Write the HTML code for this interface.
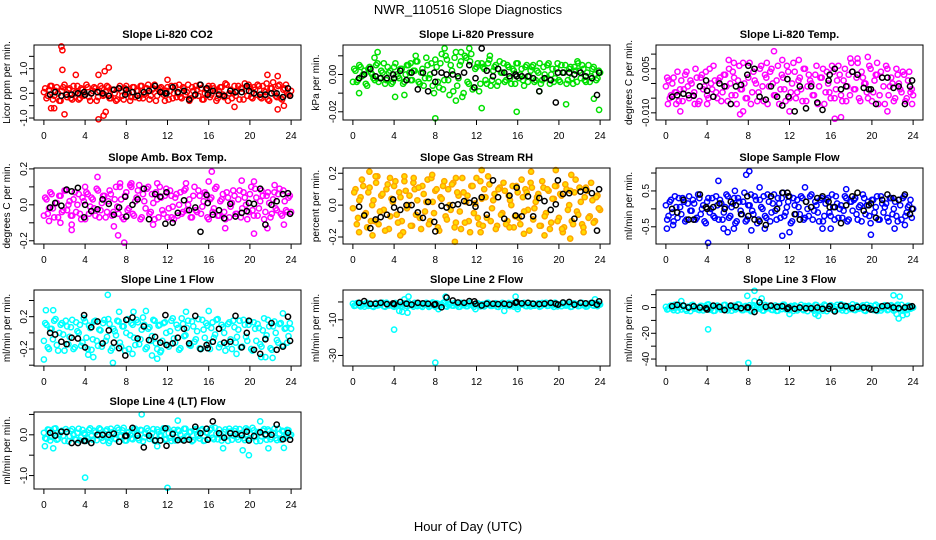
<!DOCTYPE html>
<html><head><meta charset="utf-8"><title>NWR_110516 Slope Diagnostics</title>
<style>
html,body{margin:0;padding:0;background:#fff;}
svg{display:block;font-family:"Liberation Sans",Arial,sans-serif;}
</style></head>
<body>
<svg id="chart" width="936" height="540" viewBox="0 0 936 540" xmlns="http://www.w3.org/2000/svg">
<rect x="0" y="0" width="936" height="540" fill="#fff"/>
<text x="468" y="14" text-anchor="middle" font-size="13">NWR_110516  Slope Diagnostics</text>
<text x="468" y="531" text-anchor="middle" font-size="13">Hour of Day (UTC)</text>
</svg>
<script>
const bandHours=[0,0.25,0.5,0.75,1,1.25,1.5,1.75,2,2.25,2.5,2.75,3,3.25,3.5,3.75,4,4.25,4.5,4.75,5,5.25,5.5,5.75,6,6.25,6.5,6.75,7,7.25,7.5,7.75,8,8.25,8.5,8.75,9,9.25,9.5,9.75,10,10.25,10.5,10.75,11,11.25,11.5,11.75,12,12.25,12.5,12.75,13,13.25,13.5,13.75,14,14.25,14.5,14.75,15,15.25,15.5,15.75,16,16.25,16.5,16.75,17,17.25,17.5,17.75,18,18.25,18.5,18.75,19,19.25,19.5,19.75,20,20.25,20.5,20.75,21,21.25,21.5,21.75,22,22.25,22.5,22.75,23,23.25,23.5,23.75,24];
const bandHours2=[0.125,0.375,0.625,0.875,1.125,1.375,1.625,1.875,2.125,2.375,2.625,2.875,3.125,3.375,3.625,3.875,4.125,4.375,4.625,4.875,5.125,5.375,5.625,5.875,6.125,6.375,6.625,6.875,7.125,7.375,7.625,7.875,8.125,8.375,8.625,8.875,9.125,9.375,9.625,9.875,10.125,10.375,10.625,10.875,11.125,11.375,11.625,11.875,12.125,12.375,12.625,12.875,13.125,13.375,13.625,13.875,14.125,14.375,14.625,14.875,15.125,15.375,15.625,15.875,16.125,16.375,16.625,16.875,17.125,17.375,17.625,17.875,18.125,18.375,18.625,18.875,19.125,19.375,19.625,19.875,20.125,20.375,20.625,20.875,21.125,21.375,21.625,21.875,22.125,22.375,22.625,22.875,23.125,23.375,23.625,23.875];
const blackHours=[0.6,1.1,1.7,2.2,2.7,3.3,3.9,4.0,4.6,5.2,5.7,6.3,6.8,7.3,7.9,8.0,8.6,9.1,9.7,10.2,10.8,11.3,11.8,11.9,12.5,13.0,13.6,14.1,14.7,15.2,15.8,15.9,16.4,17.0,17.5,18.1,18.6,19.2,19.7,19.9,20.4,21.0,21.5,22.1,22.6,23.2,23.7,23.9];
const xTicks=[0,4,8,12,16,20,24];

const co2Band=[0.05,-0.2,0.15,0.3,-0.1,0.25,-0.3,0.1,0.35,-0.15,0.2,-0.25,0.0,0.3,-0.2,0.15,-0.05,0.25,-0.3,0.1,0.2,-0.15,0.3,-0.1,0.05,0.25,-0.2,0.15,-0.3,0.2,0.1,-0.25,0.3,0.0,-0.15,0.25,0.1,-0.2,0.3,-0.05,0.2,-0.25,0.15,0.35,-0.1,0.2,0.05,-0.3,0.25,0.1,-0.2,0.3,0.0,-0.15,0.25,-0.05,0.35,-0.2,0.1,0.3,-0.1,0.2,-0.25,0.15,0.3,-0.05,0.2,-0.3,0.1,0.25,-0.15,0.35,0.0,-0.2,0.3,0.1,-0.25,0.2,0.4,-0.1,0.25,-0.2,0.15,0.35,-0.15,0.3,0.05,-0.25,0.2,0.45,-0.1,0.3,-0.2,0.15,0.35,-0.05,0.1];
const co2Band2=[0.2,-0.1,0.3,-0.25,0.1,0.0,-0.3,0.25,-0.05,0.15,-0.2,0.3,0.05,-0.25,0.2,-0.1,0.35,-0.15,0.0,0.25,-0.3,0.1,0.2,-0.05,0.3,-0.2,0.15,0.0,-0.25,0.3,-0.1,0.2,0.05,-0.3,0.25,-0.15,0.1,0.3,-0.2,0.0,0.35,-0.1,0.2,-0.3,0.15,0.25,-0.05,0.1,-0.25,0.3,0.0,-0.15,0.35,-0.2,0.2,0.05,-0.3,0.25,-0.1,0.15,0.35,-0.25,0.0,0.2,-0.15,0.3,0.1,-0.2,0.25,-0.05,0.4,-0.3,0.15,0.0,-0.1,0.3,0.2,-0.25,0.1,0.35,-0.15,0.25,-0.05,0.3,-0.2,0.1,0.4,-0.3,0.2,0.05,-0.15,0.35,-0.25,0.2,0.0,-0.1];
const co2OutHours=[1.7,1.8,1.8,2.0,0.7,1.0,3.1,5.3,5.9,6.3,5.3,5.8,6.0,12.0,18.5,21.7,22.7,22.7,23.3];
const co2OutVals=[1.9,1.75,0.95,-0.85,-0.6,-0.6,0.75,0.75,0.9,1.05,-1.05,-0.9,-0.75,0.55,-0.55,0.75,0.7,-0.65,-0.5];
const co2Black=[-0.05,0.05,-0.1,-0.05,-0.05,0.0,0.05,-0.05,0.0,0.05,0.0,-0.1,0.15,0.2,-0.05,0.15,0.05,-0.1,0.05,0.1,0.3,0.05,0.0,0.0,0.25,0.05,0.1,-0.25,-0.05,0.35,0.2,-0.05,0.1,-0.05,-0.1,0.1,0.05,0.05,0.3,0.1,0.0,-0.05,-0.05,0.0,0.0,-0.15,0.2,-0.1];
const co2Ticks=[-1,-0.5,0,0.5,1,1.5];
const co2TickLabels=["-1.0","","0.0","","1.0",""];

const presBand=[-0.004,0.002,-0.003,0.004,0.0,-0.005,0.003,0.001,-0.002,0.005,-0.004,0.002,0.006,-0.003,0.001,-0.005,0.004,0.0,-0.002,0.003,-0.004,0.005,0.001,-0.003,0.002,0.007,-0.005,0.003,-0.002,0.005,0.0,-0.006,0.008,-0.004,0.006,-0.008,0.01,-0.003,0.005,-0.009,0.012,-0.002,0.007,-0.01,0.009,-0.005,0.011,-0.007,0.004,-0.009,0.006,0.003,-0.005,0.008,-0.003,0.004,-0.006,0.007,0.001,-0.004,0.005,-0.002,0.003,-0.005,0.006,0.0,-0.003,0.004,-0.004,0.002,0.005,-0.003,0.001,-0.005,0.004,-0.002,0.006,0.0,-0.004,0.003,-0.003,0.005,0.001,-0.005,0.003,-0.002,0.004,-0.004,0.002,0.005,-0.003,0.001,-0.004,0.003,0.0,-0.002,0.001];
const presBand2=[0.003,-0.004,0.005,-0.001,0.002,-0.006,0.004,0.0,-0.003,0.006,-0.002,0.001,-0.005,0.004,0.002,-0.004,0.006,-0.001,0.003,-0.005,0.0,0.005,-0.003,0.002,0.007,-0.004,0.001,-0.006,0.009,-0.002,0.006,-0.01,0.004,-0.007,0.011,-0.003,0.008,-0.011,0.002,0.009,-0.006,0.005,-0.012,0.01,-0.004,0.007,-0.008,0.003,0.006,-0.005,0.004,-0.003,0.006,-0.006,0.002,0.005,-0.004,0.001,0.006,-0.003,0.004,-0.005,0.002,0.006,-0.002,0.003,-0.006,0.005,-0.001,0.004,-0.004,0.002,0.006,-0.003,0.0,0.005,-0.005,0.003,-0.002,0.006,-0.004,0.001,0.005,-0.003,0.004,-0.005,0.002,0.006,-0.002,0.003,-0.004,0.005,-0.001,0.004,-0.003,0.002];
const presOutHours=[0.6,2.1,2.4,4.1,5.0,5.6,6.1,8.0,8.9,10.0,10.5,11.3,12.5,13.3,15.9,18.1,20.7,23.4,23.9,21.8];
const presOutVals=[-0.01,0.009,0.012,-0.012,-0.011,0.006,0.01,-0.0235,0.014,-0.014,0.012,0.014,-0.018,0.01,-0.02,-0.009,-0.016,-0.013,-0.019,0.007];
const presBlack=[-0.002,0.0,0.003,-0.001,-0.002,-0.002,0.0,-0.002,0.002,-0.003,0.001,-0.008,0.001,-0.009,0.001,-0.004,0.001,0.0,0.0,-0.001,0.001,0.005,-0.007,-0.002,0.014,0.002,-0.001,0.003,0.001,-0.001,0.0,-0.001,-0.001,-0.001,-0.002,-0.009,-0.002,-0.003,-0.015,0.001,0.001,0.001,0.0,0.001,-0.001,-0.002,-0.011,0.001];
const presTicks=[-0.02,-0.01,0,0.01];
const presTickLabels=["-0.02","","0.00",""];

const tempBand=[-0.001,0.001,-0.004,0.002,-0.003,-0.006,0.001,-0.002,0.004,-0.005,0.0,-0.003,0.002,-0.006,0.003,-0.001,-0.004,0.005,-0.002,0.001,-0.005,0.002,-0.003,0.003,-0.006,0.0,0.004,-0.004,0.001,-0.002,0.007,-0.005,0.002,-0.007,0.004,0.0,-0.003,0.006,-0.006,0.002,-0.001,0.005,-0.004,0.001,-0.007,0.003,-0.002,0.006,-0.005,0.0,0.004,-0.003,0.002,-0.006,0.005,-0.001,0.001,-0.004,0.003,-0.007,0.002,0.005,-0.003,0.0,-0.005,0.004,-0.002,0.006,-0.004,0.001,-0.006,0.003,0.007,-0.002,0.002,-0.005,0.004,0.0,-0.003,0.006,-0.006,0.001,0.003,-0.004,0.002,-0.007,0.005,-0.001,0.0,-0.005,0.003,-0.002,0.004,-0.006,0.001,-0.003,-0.004];
const tempBand2=[0.002,-0.005,0.0,-0.003,0.004,-0.002,-0.006,0.003,-0.001,0.001,-0.004,0.005,-0.007,0.002,-0.002,0.004,-0.005,0.0,0.006,-0.003,0.001,-0.006,0.003,-0.001,0.005,-0.004,0.002,-0.007,0.006,-0.002,0.0,-0.005,0.007,-0.003,0.001,-0.006,0.005,-0.001,0.003,-0.007,0.004,0.0,-0.004,0.006,-0.002,0.002,-0.006,0.004,-0.003,0.007,-0.005,0.001,-0.002,0.005,-0.006,0.003,0.0,-0.004,0.006,-0.001,0.002,-0.007,0.004,-0.003,0.006,-0.005,0.001,0.003,-0.006,0.005,-0.001,-0.004,0.004,-0.002,0.007,-0.006,0.002,0.0,-0.005,0.005,-0.003,0.003,-0.007,0.004,-0.001,0.006,-0.004,0.002,-0.006,0.005,0.0,-0.003,0.003,-0.005,0.004,-0.002];
const tempOutHours=[0.2,1.0,1.4,2.8,4.0,6.1,6.6,7.2,7.5,9.8,10.5,11.3,12.0,12.9,16.4,17.0,17.9,18.6,19.6,20.5,21.5,23.9];
const tempOutVals=[-0.007,-0.007,-0.0095,-0.007,-0.007,0.008,0.007,-0.0105,-0.0095,0.007,0.011,0.008,-0.0095,0.008,-0.012,-0.0115,0.0085,0.0085,0.009,0.007,-0.0095,-0.007];
const tempBlack=[-0.0045,-0.004,-0.0035,-0.004,-0.0042,-0.001,0.001,-0.0025,-0.0045,0.0,-0.001,-0.007,-0.001,-0.0005,0.003,0.006,0.005,-0.0045,-0.0055,-0.001,-0.0045,-0.0075,0.0015,-0.0045,-0.0095,-0.001,-0.0085,-0.001,-0.0065,-0.009,0.001,0.003,0.005,-0.002,-0.001,0.004,0.003,-0.0015,-0.002,-0.002,-0.007,0.002,0.002,-0.0015,-0.001,-0.007,-0.001,0.001];
const tempTicks=[-0.01,-0.005,0,0.005,0.01];
const tempTickLabels=["-0.010","","","0.005",""];

const ambBand=[-0.06,0.03,-0.02,0.06,-0.07,0.01,0.05,-0.04,0.08,-0.03,0.02,-0.06,0.07,0.0,-0.05,0.04,-0.08,0.06,-0.01,0.03,-0.06,0.08,-0.03,0.05,-0.07,0.02,0.06,-0.04,0.1,-0.05,0.03,-0.08,0.07,-0.02,0.1,-0.06,0.04,0.11,-0.07,0.02,0.09,-0.05,0.06,-0.08,0.03,0.1,-0.03,0.05,-0.07,0.08,-0.01,0.04,-0.06,0.07,-0.04,0.09,0.0,-0.07,0.05,-0.03,0.08,-0.05,0.02,0.06,-0.08,0.04,-0.02,0.1,-0.06,0.03,-0.04,0.07,-0.07,0.01,0.05,-0.05,0.08,-0.02,0.04,-0.08,0.06,-0.03,0.09,-0.06,0.02,0.05,-0.04,0.07,-0.07,0.03,-0.02,0.06,-0.05,0.08,-0.03,0.04,-0.04];
const ambBand2=[0.04,-0.05,0.07,-0.02,0.01,-0.07,0.05,-0.03,0.08,0.0,-0.06,0.03,-0.04,0.06,-0.08,0.02,0.07,-0.05,0.04,-0.02,0.09,-0.07,0.01,0.05,-0.04,0.08,-0.06,0.03,-0.01,0.1,-0.07,0.05,-0.03,0.11,-0.05,0.02,0.08,-0.08,0.06,-0.02,0.1,-0.04,0.01,0.07,-0.07,0.04,-0.05,0.09,-0.02,0.05,-0.08,0.06,0.0,-0.05,0.08,-0.03,0.03,-0.07,0.1,-0.04,0.05,-0.01,0.07,-0.07,0.03,-0.04,0.09,-0.06,0.02,0.06,-0.08,0.04,-0.01,0.08,-0.05,0.03,-0.07,0.07,0.0,-0.04,0.1,-0.06,0.04,-0.02,0.08,-0.08,0.05,0.01,-0.05,0.07,-0.03,0.09,-0.06,0.02,-0.04,0.05];
const ambOutHours=[0.5,1.6,2.7,2.7,4.0,5.2,6.8,7.2,7.8,7.4,8.5,10.6,11.0,12.4,13.8,16.0,16.3,17.6,19.2,20.4,20.4,21.7,22.4,23.3];
const ambOutVals=[-0.09,-0.1,-0.11,-0.14,0.1,0.155,-0.12,-0.17,-0.21,0.12,0.12,-0.11,0.12,-0.07,0.12,0.13,0.185,-0.13,0.135,0.13,-0.16,-0.13,0.11,-0.11];
const ambBlack=[-0.015,0.01,-0.005,0.085,0.075,0.095,-0.07,0.0,-0.035,-0.025,0.03,0.005,-0.055,-0.015,0.045,-0.065,0.0,0.03,0.09,-0.08,0.06,0.045,-0.105,0.07,-0.1,-0.045,0.025,-0.03,-0.015,-0.15,0.055,0.01,-0.055,-0.03,-0.075,0.005,-0.065,-0.045,-0.035,0.01,0.005,0.09,-0.11,0.0,0.02,0.06,0.065,-0.05];
const ambTicks=[-0.2,-0.1,0,0.1,0.2];
const ambTickLabels=["-0.2","","0.0","","0.2"];

const rhBand=[-0.02,0.1,-0.08,0.05,0.12,-0.05,0.08,-0.1,0.03,0.14,-0.12,0.06,-0.03,0.1,-0.15,0.04,0.12,-0.06,0.08,-0.1,0.15,-0.02,0.06,-0.13,0.1,0.03,-0.08,0.12,-0.04,0.16,-0.1,0.02,0.09,-0.14,0.05,0.12,-0.07,0.1,-0.03,0.14,-0.11,0.06,-0.15,0.08,0.02,-0.1,0.12,-0.05,0.17,-0.12,0.04,0.1,-0.08,0.13,-0.02,0.07,-0.13,0.11,-0.05,0.09,-0.1,0.03,0.12,-0.07,0.08,-0.12,0.05,0.1,-0.03,0.14,-0.09,0.02,0.07,-0.13,0.11,-0.05,0.09,-0.11,0.04,0.12,-0.08,0.06,-0.14,0.1,0.0,-0.1,0.08,-0.04,0.11,-0.12,0.05,0.09,-0.07,0.03,-0.1,0.06,-0.03];
const rhBand2=[0.08,-0.12,0.03,0.16,-0.06,-0.14,0.11,0.0,-0.1,0.18,-0.04,0.07,-0.16,0.13,-0.07,0.02,0.15,-0.11,0.05,-0.17,0.09,0.0,-0.13,0.14,-0.06,0.11,-0.15,0.07,0.02,-0.12,0.17,-0.05,0.1,-0.16,0.04,0.15,-0.09,0.0,0.13,-0.14,0.08,-0.04,0.17,-0.11,0.06,-0.17,0.12,0.01,-0.08,0.15,-0.13,0.05,0.18,-0.1,0.03,-0.15,0.1,-0.06,0.14,-0.12,0.06,0.0,-0.14,0.12,-0.08,0.16,-0.04,0.08,-0.16,0.11,-0.02,0.05,-0.13,0.15,-0.07,0.1,-0.15,0.04,0.12,-0.1,0.07,-0.17,0.13,-0.03,0.09,-0.12,0.16,-0.06,0.02,-0.14,0.11,-0.08,0.14,-0.11,0.05,-0.02];
const rhOutHours=[0.6,1.9,1.6,2.2,3.6,4.6,5.0,5.9,7.7,10.0,9.9,12.4,12.5,15.2,16.6,17.3,18.6,19.7,20.3,21.1,21.2,22.4];
const rhOutVals=[-0.17,-0.19,0.21,0.18,0.17,-0.19,0.18,0.17,0.19,0.17,-0.23,-0.17,0.22,-0.14,-0.18,0.21,-0.19,0.22,-0.15,-0.21,0.19,-0.17];
const rhBlack=[-0.01,-0.065,-0.145,-0.09,-0.075,-0.06,0.035,-0.015,-0.03,0.0,0.0,-0.045,-0.08,0.02,-0.105,-0.165,-0.005,-0.015,0.0,0.005,0.025,0.015,0.03,-0.01,0.05,-0.06,0.155,0.05,-0.085,0.06,-0.065,0.11,-0.07,0.055,-0.07,0.045,0.025,-0.03,0.005,0.155,0.07,0.075,-0.085,0.085,0.095,0.075,-0.16,0.1];
const rhTicks=[-0.2,-0.1,0,0.1,0.2];
const rhTickLabels=["-0.2","","0.0","","0.2"];

const sampBand=[0.1,-0.2,0.25,-0.35,0.05,0.3,-0.15,0.2,-0.3,0.35,-0.05,0.15,-0.25,0.3,0.0,-0.35,0.2,-0.1,0.3,-0.25,0.1,0.25,-0.3,0.05,0.35,-0.2,0.15,-0.4,0.3,-0.05,0.2,-0.35,0.1,0.4,-0.15,0.25,-0.3,0.05,0.35,-0.25,0.2,-0.1,0.4,-0.3,0.15,0.3,-0.2,0.05,0.35,-0.35,0.1,0.25,-0.15,0.3,-0.25,0.0,0.35,-0.3,0.2,-0.1,0.25,-0.35,0.15,0.3,-0.2,0.05,0.35,-0.25,0.1,-0.05,0.3,-0.3,0.2,0.25,-0.15,0.05,-0.35,0.3,0.1,-0.2,0.25,-0.1,0.35,-0.3,0.15,0.05,-0.25,0.3,-0.15,0.2,-0.35,0.1,0.3,-0.2,0.05,0.25,0.0];
const sampBand2=[-0.3,0.2,-0.1,0.35,-0.25,0.05,0.3,-0.35,0.15,-0.05,0.25,-0.3,0.4,-0.15,0.1,-0.4,0.3,0.0,-0.2,0.35,-0.3,0.15,-0.1,0.4,-0.25,0.05,0.3,-0.35,0.2,-0.15,0.45,-0.3,0.1,-0.05,0.35,-0.4,0.25,0.0,-0.2,0.4,-0.35,0.15,-0.05,0.3,-0.25,0.45,-0.1,0.2,-0.4,0.3,-0.15,0.05,0.35,-0.3,0.2,-0.2,0.4,-0.05,0.1,-0.35,0.3,-0.2,0.25,-0.1,0.4,-0.3,0.15,0.0,-0.25,0.35,-0.35,0.2,-0.05,0.3,-0.3,0.1,0.4,-0.15,0.2,-0.4,0.25,0.05,-0.3,0.35,-0.1,0.15,-0.35,0.3,0.0,-0.2,0.25,-0.3,0.35,-0.1,0.1,-0.25];
const sampOutHours=[0.1,0.7,4.1,5.1,5.6,6.0,6.6,6.7,7.8,8.1,8.3,9.1,9.6,11.3,12.0,13.5,15.2,16.0,17.5,19.9,22.2,23.2];
const sampOutVals=[-0.55,-0.45,-0.95,0.78,-0.55,-0.65,-0.55,0.5,0.95,1.05,-0.6,0.6,-0.55,-0.75,-0.65,0.6,-0.55,-0.55,0.55,-0.72,-0.55,-0.45];
const sampBlack=[0.0,-0.1,0.25,-0.3,-0.3,0.4,0.05,0.0,0.05,0.15,0.0,0.2,0.1,-0.15,0.35,-0.2,-0.3,-0.35,-0.45,0.35,0.0,0.45,0.45,0.35,-0.15,-0.3,0.2,0.05,0.3,0.35,0.2,0.05,0.05,-0.4,0.1,0.35,0.45,-0.05,0.1,0.15,-0.25,0.25,0.4,0.3,0.25,0.4,-0.15,0.0];
const sampTicks=[-0.5,0,0.5,1];
const sampTickLabels=["-0.5","","0.5",""];

const l1Band=[-0.1,0.1,-0.2,0.05,0.15,-0.15,0.0,0.12,-0.22,0.08,-0.05,0.16,-0.18,0.02,0.1,-0.12,0.14,-0.2,0.06,-0.08,0.15,-0.16,0.03,0.12,-0.1,0.17,-0.22,0.05,-0.03,0.14,-0.17,0.08,0.0,-0.2,0.12,-0.06,0.16,-0.14,0.04,0.1,-0.18,0.07,-0.04,0.15,-0.2,0.1,-0.1,0.13,-0.15,0.02,0.18,-0.12,0.06,-0.19,0.11,-0.03,0.15,-0.16,0.08,-0.08,0.17,-0.2,0.04,0.12,-0.13,0.06,-0.06,0.16,-0.18,0.1,0.0,-0.14,0.13,-0.2,0.07,-0.05,0.15,-0.17,0.1,-0.1,0.14,-0.22,0.05,0.11,-0.14,0.03,-0.07,0.16,-0.19,0.08,0.0,-0.12,0.12,-0.16,0.06,-0.04,0.05];
const l1Band2=[0.12,-0.18,0.05,-0.08,0.17,-0.22,0.1,-0.02,0.15,-0.14,0.07,-0.2,0.13,0.0,-0.16,0.18,-0.06,0.09,-0.21,0.14,-0.1,0.04,-0.17,0.16,-0.05,0.11,-0.19,0.02,0.15,-0.12,0.08,-0.22,0.17,-0.03,0.1,-0.15,0.13,-0.08,0.19,-0.2,0.05,-0.1,0.16,-0.13,0.09,-0.22,0.12,0.0,-0.17,0.15,-0.07,0.1,-0.21,0.18,-0.04,0.06,-0.15,0.14,-0.11,0.02,-0.19,0.16,-0.06,0.09,-0.2,0.13,-0.02,0.17,-0.14,0.07,-0.22,0.11,-0.08,0.15,-0.12,0.04,-0.18,0.16,-0.05,0.1,-0.2,0.13,-0.1,0.06,-0.17,0.18,-0.03,0.08,-0.21,0.14,-0.09,0.11,-0.16,0.05,-0.12,0.12];
const l1OutHours=[0.0,0.2,0.9,4.3,4.8,6.2,6.7,7.3,8.6,8.7,9.9,10.5,11.0,11.3,13.8,16.0,18.7,21.1,21.5,22.2,23.2];
const l1OutVals=[-0.33,0.28,0.28,-0.27,-0.3,0.47,-0.37,0.26,-0.26,0.26,0.27,-0.28,-0.32,-0.24,0.26,0.27,-0.26,-0.3,-0.3,-0.31,0.24];
const l1Black=[0.0,-0.02,-0.11,-0.14,-0.06,-0.07,0.22,-0.18,0.07,0.14,-0.13,0.03,-0.12,-0.19,-0.28,0.16,0.19,-0.07,0.08,-0.09,-0.05,-0.12,0.22,-0.15,-0.13,-0.06,0.05,-0.13,0.21,-0.2,-0.15,-0.19,-0.11,0.05,-0.12,-0.11,0.21,-0.18,0.0,0.15,-0.21,-0.26,-0.08,0.12,-0.21,-0.17,0.2,-0.1];
const l1Ticks=[-0.4,-0.2,0,0.2,0.4];
const l1TickLabels=["","-0.2","","0.2",""];

const l2Band=[-1,-2,-0.5,-2.5,-1.5,-0.8,-2.2,-1.2,-2.8,-0.6,-1.8,-1.0,-2.4,-0.4,-2.0,-1.4,-2.7,-0.9,-1.6,-2.1,-0.7,-2.5,-1.1,-1.9,-0.5,-2.3,-1.3,-2.8,-0.8,-1.7,-2.2,-0.3,-2.6,-1.0,-1.8,-0.6,-2.4,-1.5,-0.9,-2.1,-1.2,-2.7,-0.5,-1.9,-2.3,-1.0,-1.6,-2.8,-0.7,-2.0,-1.3,-2.5,-0.6,-1.7,-2.2,-0.9,-2.6,-1.4,-0.5,-2.0,-1.1,-2.4,-0.8,-1.8,-2.7,-1.0,-1.5,-2.2,-0.6,-2.5,-1.2,-1.9,-0.7,-2.3,-1.6,-0.4,-2.1,-1.3,-2.8,-0.9,-1.7,-2.4,-0.6,-2.0,-1.1,-2.6,-0.8,-1.5,-2.2,-0.5,-1.9,-2.5,-1.0,-1.7,-0.7,-2.3,-1.4];
const l2Band2=[-2.2,-0.7,-1.9,-1.2,-2.6,-0.5,-1.5,-2.4,-0.9,-2.0,-1.3,-0.4,-2.7,-1.1,-1.7,-2.3,-0.6,-1.4,-2.5,-1.0,-2.1,-0.3,-1.8,-2.6,-0.8,-1.6,-2.2,-1.2,-0.5,-2.8,-1.0,-1.9,-0.7,-2.4,-1.4,-0.2,-2.6,-1.1,-2.0,-0.6,-1.7,-2.7,-0.9,-1.3,-2.3,-0.5,-2.0,-1.5,-0.8,-2.5,-1.2,-1.9,-0.4,-2.2,-1.6,-0.7,-2.8,-1.0,-1.8,-2.3,-0.6,-1.4,-2.6,-0.9,-2.0,-1.3,-0.5,-2.4,-1.7,-0.8,-2.1,-1.1,-2.7,-0.6,-1.5,-2.2,-1.0,-1.9,-0.4,-2.5,-1.3,-0.7,-2.0,-1.6,-2.8,-0.9,-1.2,-2.3,-0.5,-1.8,-2.6,-1.1,-0.6,-2.1,-1.4,-1.0];
const l2OutHours=[4.0,8.0,4.5,4.8,5.3,5.0,5.4,9.0,8.3,11.9,14.7,15.8,16.0,23.5];
const l2OutVals=[-15.5,-34,-5,-5.5,-6,1.5,3,3,-4,-4,-5,3,-4,1.5];
const l2Black=[-0.5,0.5,-1.0,-1.0,-0.5,-1.2,-0.8,-1.2,0.0,-1.0,-1.5,-0.5,-0.8,-1.0,-1.5,-1.2,-3.0,2.5,0.8,-0.3,-0.5,0.5,0.3,-1.0,-2.0,-1.0,-1.0,-1.2,-1.0,-1.5,-0.5,0.0,-0.8,-0.5,-1.0,-1.2,-1.0,-0.5,-1.0,-1.5,-0.3,0.0,-1.5,-0.5,-0.8,-0.5,-1.5,0.3];
const l2Ticks=[-30,-20,-10,0];
const l2TickLabels=["-30","","-10",""];

const l3Band=[0.5,-1,1.5,-2,0,2,-1.5,1,-2.5,0.5,1.8,-1,0,-2,1.2,-0.5,2.2,-1.8,0.8,-2.5,1.5,-0.2,-1.2,2,-2.2,0.3,1,-1.5,2.5,-0.8,-2,1.2,0,-2.8,1.8,-1,0.5,2,-2.4,-0.5,1.3,-1.8,0.2,-2.6,1,-1.2,2.2,-0.3,-2,0.8,1.6,-2.2,0,-1.4,1.2,-2.8,0.6,-0.8,2,-1.6,0.2,-2.4,1.4,-0.6,1.8,-2,0.4,-1.2,2.4,-0.4,-2.6,1,0,-1.8,1.6,-1,0.6,-2.2,2,-0.2,-1.4,1.2,-2.6,0.8,-0.6,1.8,-2,0.2,1,-1.6,2.2,-0.8,-2.4,0.4,1.4,-1,0];
const l3Band2=[-1.5,1.0,-0.5,2.2,-2.4,0.3,1.6,-1.2,0.6,-2.8,2.0,-0.3,-1.6,1.3,-2.2,0.9,2.4,-0.8,-2.6,1.1,0.2,-1.8,1.9,-1.0,0.5,-2.5,1.4,-0.4,2.3,-2.0,0.7,-1.3,1.8,-2.7,0.1,1.5,-0.9,-2.3,2.1,-0.6,0.9,-1.9,1.6,-2.5,0.4,2.2,-1.4,-0.2,1.2,-2.6,0.8,-1.1,2.0,-2.1,0.3,1.4,-0.7,-2.4,1.9,-1.5,0.6,2.3,-2.8,0.0,1.1,-1.7,2.1,-0.9,-2.2,1.5,0.4,-1.3,2.4,-2.0,0.7,-0.5,1.7,-2.6,0.2,1.3,-1.9,2.2,-0.6,-2.3,1.0,0.5,-1.6,1.8,-2.4,0.9,-0.3,2.0,-1.2,-2.0,1.2,-0.4];
const l3OutHours=[4.1,8.0,7.9,8.6,8.6,9.3,12.0,14.5,14.8,22.1,22.7,22.4,22.6,23.0,23.4,1.5];
const l3OutVals=[-17,-43,9,5,13,7,-5,-5,-6.5,9.5,8.5,-5,-8.5,-6,-5,5];
const l3Black=[1,2,1.5,0,1,0,-0.5,-1.5,1.5,0.5,-2,1.5,0.5,-0.5,0,0,-3.5,4,0.5,1.5,0.5,1,-1,0,-1,0,-0.5,-0.5,0,-1,-1,1,-3,1.5,1,-0.5,0.5,0,-0.5,-1.5,-2,1,1.5,0,-0.5,0,0.5,1];
const l3Ticks=[-40,-30,-20,-10,0,10];
const l3TickLabels=["-40","","-20","","0",""];

const l4Band=[0.05,-0.1,0.12,-0.05,0.15,-0.12,0.0,0.1,-0.15,0.08,-0.03,0.14,-0.1,0.05,-0.14,0.12,0.0,-0.08,0.16,-0.12,0.06,-0.02,0.13,-0.15,0.09,-0.06,0.15,0.02,-0.11,0.12,-0.04,0.17,-0.14,0.07,-0.09,0.14,0.0,-0.13,0.11,-0.06,0.16,-0.1,0.04,-0.15,0.13,-0.02,0.1,-0.12,0.16,-0.07,0.05,-0.14,0.12,0.0,-0.1,0.15,-0.05,0.08,-0.13,0.14,-0.03,0.11,-0.15,0.06,-0.08,0.16,-0.11,0.03,0.13,-0.14,0.07,-0.04,0.15,-0.12,0.09,-0.06,0.14,0.0,-0.13,0.12,-0.09,0.17,-0.05,0.06,-0.15,0.1,-0.02,0.13,-0.11,0.05,-0.08,0.15,-0.12,0.08,-0.04,0.11,0.0];
const l4Band2=[-0.08,0.13,-0.14,0.03,0.16,-0.1,0.07,-0.02,0.14,-0.16,0.09,0.0,-0.12,0.15,-0.06,0.04,-0.15,0.12,-0.03,0.1,-0.13,0.16,-0.07,0.02,0.13,-0.15,0.06,-0.09,0.17,-0.04,0.11,-0.14,0.05,0.0,-0.11,0.15,-0.08,0.12,-0.16,0.03,0.1,-0.05,0.14,-0.13,0.07,-0.01,0.16,-0.1,0.04,-0.15,0.12,-0.06,0.09,-0.12,0.15,-0.03,0.06,-0.16,0.11,0.0,-0.09,0.14,-0.14,0.05,0.12,-0.07,0.17,-0.11,0.02,-0.05,0.13,-0.15,0.08,-0.02,0.15,-0.12,0.04,-0.08,0.16,-0.1,0.01,0.11,-0.16,0.07,-0.04,0.14,-0.12,0.09,-0.06,0.15,-0.13,0.03,0.1,-0.09,0.12,-0.03];
const l4OutHours=[0.1,0.9,4.0,9.5,12.0,13.0,17.4,19.3,19.9,21.0,21.8,23.3,11.0,6.3];
const l4OutVals=[-0.28,-0.33,-1.05,0.5,-1.3,0.35,-0.33,-0.38,-0.5,0.33,-0.33,-0.32,-0.28,-0.2];
const l4Black=[0.05,-0.02,0.08,0.07,-0.2,-0.2,-0.15,-0.15,-0.2,0.0,0.0,0.0,0.03,-0.17,-0.03,-0.02,0.17,-0.02,-0.31,-0.02,-0.14,-0.14,0.16,-0.27,0.02,-0.13,-0.14,-0.12,0.2,0.04,0.15,-0.12,0.33,0.04,-0.07,0.04,0.02,-0.01,0.08,-0.14,-0.03,0.06,0.01,0.0,0.25,-0.11,0.05,-0.12];
const l4Ticks=[-1,-0.5,0,0.5];
const l4TickLabels=["-1.0","","0.0",""];

// layout / style (not data)
const NS="http://www.w3.org/2000/svg";
const svg=document.getElementById('chart');
const colL=[34,343,656], rowT=[45,168,290,412], rowB=[120,244,366,489], W=267;
const panels=[
 {key:'co2',title:'Slope Li-820 CO2',ylab:'Licor ppm per min.',col:'#ff0000',c:0,r:0,ylim:[-1.08,1.96],band:co2Band,band2:co2Band2,oh:co2OutHours,ov:co2OutVals,blk:co2Black,t:co2Ticks,tl:co2TickLabels},
 {key:'pressure',title:'Slope Li-820 Pressure',ylab:'kPa per min.',col:'#00e000',c:1,r:0,ylim:[-0.0244,0.0158],band:presBand,band2:presBand2,oh:presOutHours,ov:presOutVals,blk:presBlack,t:presTicks,tl:presTickLabels},
 {key:'temp',title:'Slope Li-820 Temp.',ylab:'degrees C per min.',col:'#ff00ff',c:2,r:0,ylim:[-0.01244,0.0131],band:tempBand,band2:tempBand2,oh:tempOutHours,ov:tempOutVals,blk:tempBlack,t:tempTicks,tl:tempTickLabels},
 {key:'amb-temp',title:'Slope Amb. Box Temp.',ylab:'degrees C per min.',col:'#ff00ff',c:0,r:1,ylim:[-0.218,0.205],band:ambBand,band2:ambBand2,oh:ambOutHours,ov:ambOutVals,blk:ambBlack,t:ambTicks,tl:ambTickLabels},
 {key:'rh',title:'Slope Gas Stream RH',ylab:'percent per min.',col:'#ffa500',inner:'#ffdd00',c:1,r:1,ylim:[-0.244,0.233],band:rhBand,band2:rhBand2,oh:rhOutHours,ov:rhOutVals,blk:rhBlack,t:rhTicks,tl:rhTickLabels},
 {key:'sample-flow',title:'Slope Sample Flow',ylab:'ml/min per min.',col:'#0000ff',c:2,r:1,ylim:[-0.98,1.14],band:sampBand,band2:sampBand2,oh:sampOutHours,ov:sampOutVals,blk:sampBlack,t:sampTicks,tl:sampTickLabels},
 {key:'line1',title:'Slope Line 1 Flow',ylab:'ml/min per min.',col:'#00ffff',c:0,r:2,ylim:[-0.41,0.53],band:l1Band,band2:l1Band2,oh:l1OutHours,ov:l1OutVals,blk:l1Black,t:l1Ticks,tl:l1TickLabels},
 {key:'line2',title:'Slope Line 2 Flow',ylab:'ml/min per min.',col:'#00ffff',c:1,r:2,ylim:[-35.9,6.7],band:l2Band,band2:l2Band2,oh:l2OutHours,ov:l2OutVals,blk:l2Black,t:l2Ticks,tl:l2TickLabels},
 {key:'line3',title:'Slope Line 3 Flow',ylab:'ml/min per min.',col:'#00ffff',c:2,r:2,ylim:[-45.4,13.6],band:l3Band,band2:l3Band2,oh:l3OutHours,ov:l3OutVals,blk:l3Black,t:l3Ticks,tl:l3TickLabels},
 {key:'line4',title:'Slope Line 4 (LT) Flow',ylab:'ml/min per min.',col:'#00ffff',c:0,r:3,ylim:[-1.33,0.56],band:l4Band,band2:l4Band2,oh:l4OutHours,ov:l4OutVals,blk:l4Black,t:l4Ticks,tl:l4TickLabels}
];
function mk(tag,attrs,parent){const e=document.createElementNS(NS,tag);for(const k in attrs)e.setAttribute(k,attrs[k]);(parent||svg).appendChild(e);return e;}
panels.forEach(p=>{
  const L=colL[p.c],T=rowT[p.r],B=rowB[p.r],R=L+W,H=B-T;
  const xs=h=>L+W*(h+0.96)/25.92;
  const ys=v=>B-H*(v-p.ylim[0])/(p.ylim[1]-p.ylim[0]);
  const g=mk('g',{});
  
  
  const ttl=mk('text',{x:L+W/2,y:T-7,'text-anchor':'middle','font-size':11,'font-weight':'bold'},g);
  ttl.textContent=p.title;
  
  
  const yl=mk('text',{transform:`translate(${L-24},${(T+B)/2}) rotate(-90)`,'text-anchor':'middle','font-size':10},g);
  yl.textContent=p.ylab;
  
  
  const pts=mk('g',{fill:'none'},g);
  
  
  function dot(h,v,stroke,name){
    const cx=xs(h),cy=ys(v);
    if(cx<L-3||cx>R+3||cy<T-3||cy>B+3)return;
    const c=mk('circle',{cx:cx.toFixed(1),cy:cy.toFixed(1),r:2.6,stroke:stroke,'stroke-width':1.5,fill:p.inner&&stroke!=='#000'?p.inner:'none'},pts);
    
    
  }
  for(let i=0;i<Math.min(bandHours.length,p.band.length);i++)dot(bandHours[i],p.band[i],p.col,'point');
  for(let i=0;i<Math.min(bandHours2.length,p.band2.length);i++)dot(bandHours2[i],p.band2[i],p.col,'point');
  for(let i=0;i<Math.min(p.oh.length,p.ov.length);i++)dot(p.oh[i],p.ov[i],p.col,'outlier-point');
  for(let i=0;i<Math.min(blackHours.length,p.blk.length);i++)dot(blackHours[i],p.blk[i],'#000','reference-point');
  const box=mk('rect',{x:L,y:T,width:W,height:H,fill:'none',stroke:'#000','stroke-width':1},g);
  
  
  const xa=mk('g',{},g);
  
  
  xTicks.forEach(t=>{
    const x=xs(t);
    mk('line',{x1:x,x2:x,y1:B,y2:B+5,stroke:'#000'},xa);
    const tx=mk('text',{x:x,y:B+19,'text-anchor':'middle','font-size':10},xa);
    tx.textContent=String(t);
    
    
  });
  const ya=mk('g',{},g);
  
  
  p.t.forEach((t,i)=>{
    const y=ys(t);
    if(y<T-1||y>B+1)return;
    mk('line',{x1:L-5,x2:L,y1:y,y2:y,stroke:'#000'},ya);
    if(p.tl[i]){
      const tx=mk('text',{transform:`translate(${L-7},${y}) rotate(-90)`,'text-anchor':'middle','font-size':10},ya);
      tx.textContent=p.tl[i];
      
      
    }
  });
});
</script>
</body></html>
